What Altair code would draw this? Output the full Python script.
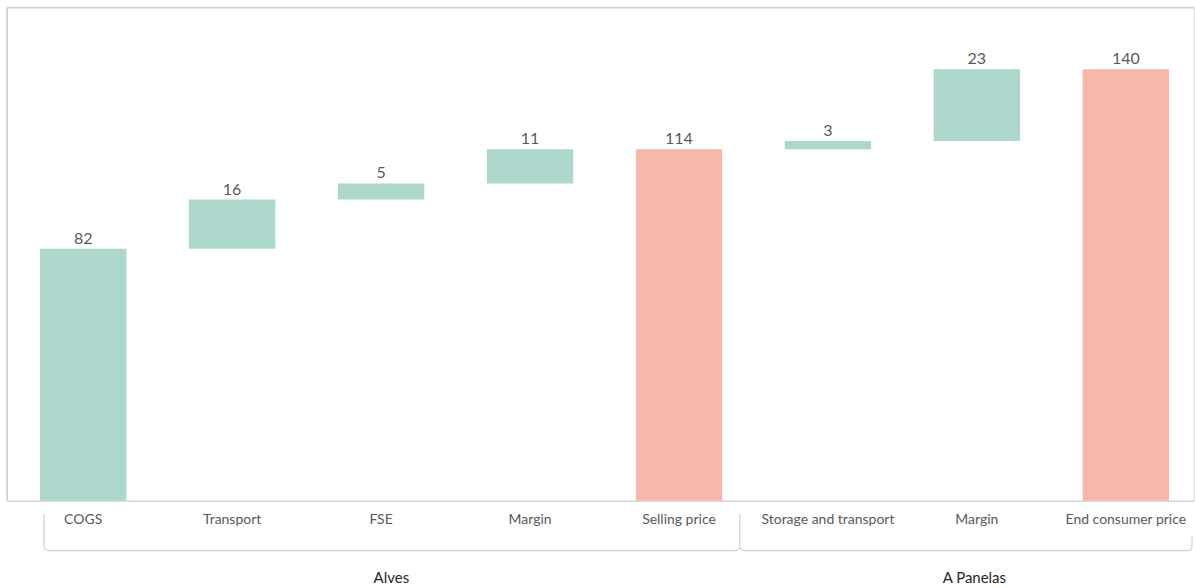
import altair as alt
import pandas as pd
import math

categories = ["COGS", "Transport", "FSE", "Margin", "Selling price",
              "Storage and transport", "Margin ", "End consumer price"]
values = [81.7, 16.0, 5.2, 11.1, 114.0, 2.7, 23.3, 140.0]
is_total = [False, False, False, False, True, False, False, True]
groups = ["Alves", "A Panelas"]

TEAL = "#ADD6CD"
SALMON = "#F5B8AB"

rows = []
running = 0.0
for cat, v, tot in zip(categories, values, is_total):
    if tot:
        base, top = 0.0, v
        running = v
    else:
        base, top = running, running + v
        running = top
    rows.append({"cat": cat, "value": v, "base": base, "top": top,
                 "kind": "total" if tot else "step", "txt": f"{v:.0f}"})
df = pd.DataFrame(rows)

W, H = 1189, 494
FONT = "Lato"

xscale = alt.Scale(paddingInner=0.42, paddingOuter=0.1945, align=0.569)
xenc = alt.X("cat:N", sort=categories, scale=xscale,
             axis=alt.Axis(title=None, ticks=False, labelAngle=0, labelPadding=12,
                           labelFont=FONT, labelFontSize=14, labelColor="#595959",
                           domainColor="#D9D9D9", domainWidth=1.5,
                           labelExpr="replace(datum.label, / +$/, '')"))
yscale = alt.Scale(domain=[0, 160], nice=False)

bars = alt.Chart(df).mark_bar().encode(
    x=xenc,
    y=alt.Y("base:Q", scale=yscale, axis=None),
    y2="top:Q",
    color=alt.Color("kind:N", scale=alt.Scale(domain=["step", "total"], range=[TEAL, SALMON]),
                    legend=None),
)

labels = alt.Chart(df).mark_text(font=FONT, fontSize=16, color="#595959",
                                 baseline="alphabetic", dy=-5).encode(
    x=alt.X("cat:N", sort=categories),
    y=alt.Y("top:Q", scale=yscale),
    text="txt:N",
)

gray = "#D0D0D0"
def rule(x, x2, y, y2, color=gray, w=1.2):
    return alt.Chart(pd.DataFrame({"a": [0]})).mark_rule(color=color, strokeWidth=w).encode(
        x=alt.value(x), x2=alt.value(x2), y=alt.value(y), y2=alt.value(y2))

# chart frame (top and left)
frame = rule(0, W, 0, 0, "#D0D0D0", 1.5) + rule(0, 0, 0, H, "#D0D0D0", 1.5)

# bracket of grouped category axis (plot coordinates)
br = (rule(37, 37, 507, 540) + rule(41, 730, 544, 544) +
      rule(734, 734, 507, 540) + rule(738, 1183, 544, 544) + rule(1187, 1187, 530, 540))

def arc(cx, cy, t0, t1):
    return alt.Chart(pd.DataFrame({"a": [0]})).mark_arc(
        innerRadius=3.4, outerRadius=4.6, theta=t0, theta2=t1, color=gray).encode(
        x=alt.value(cx), y=alt.value(cy))

arcs = (arc(41, 540, math.pi, 1.5 * math.pi) +
        arc(730, 540, 0.5 * math.pi, math.pi) +
        arc(738, 540, math.pi, 1.5 * math.pi) +
        arc(1183, 540, 0.5 * math.pi, math.pi))

def glabel(text, px):
    return alt.Chart(pd.DataFrame({"g": [text]})).mark_text(
        font=FONT, fontSize=15, color="#262626", baseline="alphabetic").encode(
        x=alt.value(px), y=alt.value(576), text="g:N")

glabels = glabel(groups[0], 385) + glabel(groups[1], 969)

chart = alt.layer(frame, bars, labels, br, arcs, glabels).properties(
    width=W, height=H, padding={"left": 6, "top": 6, "right": 0, "bottom": 4}
).configure_view(stroke=None).configure(background="white")

chart.save("out.html", embed_options={"renderer": "svg", "actions": False})
